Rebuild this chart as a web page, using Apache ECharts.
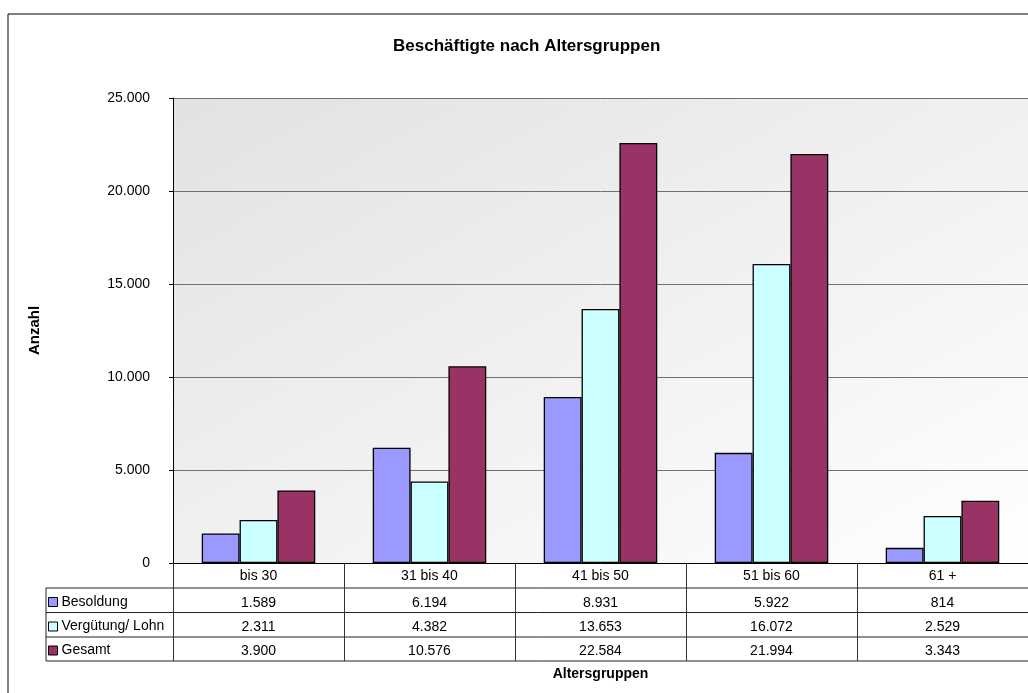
<!DOCTYPE html>
<html>
<head>
<meta charset="utf-8">
<title>Beschäftigte nach Altersgruppen</title>
<script src="https://cdn.jsdelivr.net/npm/echarts@6/dist/echarts.min.js"></script>
<style>
  html, body { margin: 0; padding: 0; background: #fff; }
  #main { width: 1028px; height: 693px; }
</style>
</head>
<body>
<div id="main"></div>
<script>
// Daten
const categories = ['bis 30', '31 bis 40', '41 bis 50', '51 bis 60', '61 +']
const seriesNames = ['Besoldung', 'Vergütung/ Lohn', 'Gesamt']
const besoldung = [1589, 6194, 8931, 5922, 814]
const verguetung = [2311, 4382, 13653, 16072, 2529]
const gesamt = [3900, 10576, 22584, 21994, 3343]
const yTicks = [0, 5000, 10000, 15000, 20000, 25000]

const colors = ['#9999FF', '#CCFFFF', '#993366']
const values = [besoldung, verguetung, gesamt]
const font = "'Liberation Sans', Arial, sans-serif"

// Layout
const plotLeft = 173
const plotTop = 98
const plotWidth = 858
const plotHeight = 465
const plotBottom = plotTop + plotHeight
const tableLeft = 46
const rowLines = [588, 612.5, 637, 661]
const rowOffsets = [27, 51, 75]
const legendTops = [595, 619.5, 643.5]

const fmt = v => String(v).replace(/\B(?=(\d{3})+(?!\d))/g, '.')

const chart = echarts.init(document.getElementById('main'))

// Tabellenzeilen als zusätzliche Kategorie-Achsen
const valueAxes = values.map((vals, i) => ({
  type: 'category',
  gridIndex: 0,
  position: 'bottom',
  offset: rowOffsets[i],
  data: categories,
  axisLine: { show: false },
  axisTick: { show: false },
  splitLine: { show: false },
  axisLabel: {
    interval: 0,
    margin: 6,
    color: '#000',
    fontFamily: font,
    fontSize: 14,
    formatter: (v, idx) => fmt(vals[idx])
  }
}))

const legends = seriesNames.map((name, i) => ({
  data: [name],
  left: tableLeft + 2,
  top: legendTops[i],
  padding: 0,
  icon: 'rect',
  itemWidth: 9,
  itemHeight: 9,
  itemGap: 0,
  selectedMode: false,
  itemStyle: { borderColor: '#000', borderWidth: 1 },
  textStyle: { color: '#000', fontFamily: font, fontSize: 14, padding: [0, 0, 0, -1] }
}))

const tableLines = rowLines.map(y => ({
  type: 'line',
  shape: { x1: tableLeft, y1: y, x2: plotLeft + plotWidth, y2: y },
  style: { stroke: '#222', lineWidth: 1 },
  silent: true
}))

const option = {
  backgroundColor: '#fff',
  animation: false,
  title: {
    text: 'Beschäftigte nach Altersgruppen',
    left: 388,
    top: 33,
    textStyle: { color: '#000', fontFamily: font, fontSize: 17, fontWeight: 'bold' }
  },
  legend: legends,
  grid: {
    left: plotLeft,
    top: plotTop,
    width: plotWidth,
    height: plotHeight,
    show: true,
    borderWidth: 0,
    backgroundColor: {
      type: 'linear',
      x: 0, y: 0, x2: 0.452, y2: 1.548,
      colorStops: [
        { offset: 0, color: '#e2e2e2' },
        { offset: 1, color: '#ffffff' }
      ]
    }
  },
  xAxis: [
    {
      type: 'category',
      data: categories,
      name: 'Altersgruppen',
      nameLocation: 'middle',
      nameGap: 104,
      nameTextStyle: { color: '#000', fontFamily: font, fontSize: 14, fontWeight: 'bold' },
      axisLine: { lineStyle: { color: '#000', width: 1 } },
      axisTick: { show: true, interval: 0, length: rowLines[3] - plotBottom, lineStyle: { color: '#333' } },
      axisLabel: { interval: 0, margin: 6, color: '#000', fontFamily: font, fontSize: 14 },
      splitLine: { show: false }
    },
    ...valueAxes
  ],
  yAxis: {
    type: 'value',
    min: yTicks[0],
    max: yTicks[yTicks.length - 1],
    interval: yTicks[1] - yTicks[0],
    name: 'Anzahl',
    nameLocation: 'middle',
    nameRotate: 90,
    nameGap: 131,
    nameTextStyle: { color: '#000', fontFamily: font, fontSize: 15, fontWeight: 'bold' },
    axisLine: { show: true, lineStyle: { color: '#000', width: 1 } },
    axisTick: { show: true, length: 4, lineStyle: { color: '#000' } },
    axisLabel: { margin: 23, color: '#000', fontFamily: font, fontSize: 14, formatter: v => fmt(v) },
    splitLine: { show: true, lineStyle: { color: '#707070', width: 1 } }
  },
  series: values.map((vals, i) => ({
    name: seriesNames[i],
    type: 'bar',
    xAxisIndex: 0,
    data: vals,
    barGap: 0,
    barCategoryGap: '33.6%',
    itemStyle: { color: colors[i], borderColor: '#000', borderWidth: 1.3 }
  })),
  graphic: [
    {
      type: 'rect',
      shape: { x: 8, y: 14, width: 1040, height: 700 },
      style: { fill: null, stroke: '#000', lineWidth: 1 },
      silent: true,
      z: -1
    },
    ...tableLines,
    {
      type: 'line',
      shape: { x1: tableLeft, y1: rowLines[0], x2: tableLeft, y2: rowLines[3] },
      style: { stroke: '#222', lineWidth: 1 },
      silent: true
    }
  ]
}

chart.setOption(option)
</script>
</body>
</html>
